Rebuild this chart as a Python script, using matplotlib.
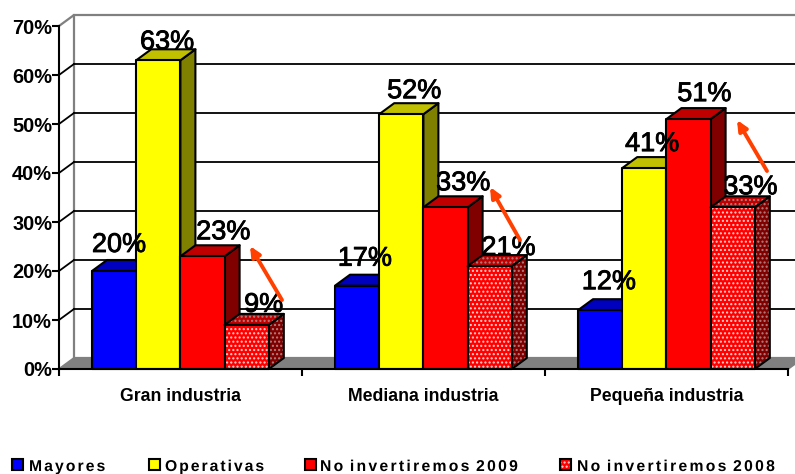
import matplotlib
matplotlib.use("Agg")
import matplotlib.pyplot as plt
import matplotlib.patheffects as pe
import numpy as np
from matplotlib.patches import Rectangle
from matplotlib.path import Path
from matplotlib.transforms import Affine2D

categories = ["Gran industria", "Mediana industria", "Pequeña industria"]
series_names = ["Mayores", "Operativas", "No invertiremos 2009", "No invertiremos 2008"]
mayores = [20, 17, 12]
operativas = [63, 52, 41]
no_inv_2009 = [23, 33, 51]
no_inv_2008 = [9, 21, 33]
y_ticks = [0, 10, 20, 30, 40, 50, 60, 70]

plt.rcParams["font.family"] = ["Liberation Sans", "DejaVu Sans"]
plt.rcParams["hatch.linewidth"] = 1.0

W, H = 795, 474
L, R, B, T = 59, 788, 369, 26
fig = plt.figure(figsize=(W / 100, H / 100), dpi=100, facecolor="white")
ax = fig.add_axes([L / W, (H - B) / H, (R - L) / W, (B - T) / H])
ax.set_xlim(0, 3)
ax.set_ylim(0, 70)
ax.set_facecolor("none")

px_x = 3 / (R - L)
px_y = 70 / (B - T)
DX, DY = 15 * px_x, 11 * px_y
GAP, BW = 33 * px_x, 44.2 * px_x

# walls and floor
ax.fill([0, 3, 3 + DX, DX], [0, 0, DY, DY], color="#808080", lw=0, clip_on=False, zorder=1)
ax.plot([0, DX, DX, 3 + DX], [70, 70 + DY, DY, DY], color="#808080", lw=1.6, clip_on=False, zorder=1)
ax.plot([DX, 3 + DX], [70 + DY, 70 + DY], color="#808080", lw=1.6, clip_on=False, zorder=1)
ax.plot([0, DX], [0, DY], color="#808080", lw=1.4, clip_on=False, zorder=1)
ax.plot([3, 3 + DX], [0, DY], color="#808080", lw=1.4, clip_on=False, zorder=1)
for v in y_ticks[1:-1]:
    ax.plot([DX, 3 + DX], [v + DY, v + DY], color="black", lw=1.3, clip_on=False, zorder=1)
    ax.plot([0, DX], [v, v + DY], color="black", lw=1.3, clip_on=False, zorder=1)

styles = [
    dict(front="#0000FF", top="#0000BF", side="#000080", hatch=None),
    dict(front="#FFFF00", top="#C0C000", side="#808000", hatch=None),
    dict(front="#FF0000", top="#C00000", side="#800000", hatch=None),
    dict(front="#FF0000", top="#C00000", side="#800000", hatch="....",
         fdot="#FFD0D0", sdot="#B08080"),
]
label_dx = [[5, 9, 21, 17], [8, 13, 18, 19], [9, 8, 16, 18]]
label_dy = [[26, 18, 24, 20], [27, 23, 24, 18], [28, 24, 25, 20]]


def face(xs, ys, color, hatch=None, dot=None, z=3):
    if hatch:
        ax.fill(xs, ys, facecolor=color, edgecolor=dot, hatch=hatch, lw=0, clip_on=False, zorder=z)
    else:
        ax.fill(xs, ys, facecolor=color, lw=0, clip_on=False, zorder=z)
    ax.fill(xs, ys, facecolor="none", edgecolor="black", lw=1.5, clip_on=False, zorder=z,
            joinstyle="round")


all_values = [mayores, operativas, no_inv_2009, no_inv_2008]
for i in range(3):
    for j, vals in enumerate(all_values):
        v = vals[i]
        s = styles[j]
        x0 = i + GAP + j * BW
        x1 = x0 + BW
        h = s["hatch"]
        face([x1, x1 + DX, x1 + DX, x1], [0, DY, v + DY, v], s["side"], h, s.get("sdot"))
        face([x0, x1, x1 + DX, x0 + DX], [v, v, v + DY, v + DY], s["top"], h, s.get("sdot"))
        face([x0, x1, x1, x0], [0, 0, v, v], s["front"], h, s.get("fdot"))

thick = [pe.withStroke(linewidth=0.6, foreground="black")]
for i in range(3):
    for j, vals in enumerate(all_values):
        v = vals[i]
        xc = i + GAP + (j + 0.5) * BW
        ax.annotate(f"{v}%", xy=(xc, v), xytext=(label_dx[i][j], label_dy[i][j]),
                    textcoords="offset pixels", ha="center", va="center",
                    fontsize=19.5, color="black", zorder=6, annotation_clip=False,
                    path_effects=thick)

# axes
for sp in ("top", "right"):
    ax.spines[sp].set_visible(False)
for sp in ("left", "bottom"):
    ax.spines[sp].set_linewidth(1.5)
    ax.spines[sp].set_zorder(5)
ax.set_yticks(y_ticks)
ax.set_yticklabels([f"{v}%" for v in y_ticks], fontsize=14.4, fontweight="bold")
ax.tick_params(axis="y", length=5, width=1.5, pad=0)
ax.set_xticks([0, 1, 2, 3])
ax.set_xticklabels([])
ax.tick_params(axis="x", which="major", length=5, width=1.5)
ax.set_xticks([0.5, 1.5, 2.5], minor=True)
ax.set_xticklabels(categories, minor=True, fontsize=12.7, fontweight="bold")
ax.tick_params(axis="x", which="minor", length=0, pad=14)

# arrows
for (x0, y0), (x1, y1) in [((282, 300), (250, 246)), ((520, 240), (490, 187)), ((767, 171), (737, 120))]:
    ax.annotate("", xy=(x1, H - y1), xytext=(x0, H - y0),
                xycoords="figure pixels", textcoords="figure pixels", zorder=7,
                annotation_clip=False,
                arrowprops=dict(arrowstyle="-|>,head_width=0.28,head_length=0.6", color="#FF4000",
                                lw=2.8, shrinkA=0, shrinkB=0))


class Tracking(pe.AbstractPathEffect):
    """Draw a text with wide letter spacing, as in the legend of the reference."""

    def __init__(self, px):
        super().__init__()
        self.px = px

    def draw_path(self, renderer, gc, tpath, affine, rgbFace=None):
        path = tpath.transformed(affine)
        subs = []
        start = 0
        codes, verts = path.codes, path.vertices
        for k in range(1, len(codes) + 1):
            if k == len(codes) or codes[k] == Path.MOVETO:
                subs.append((verts[start:k].copy(), codes[start:k].copy()))
                start = k
        subs.sort(key=lambda s: s[0][:, 0].min())
        n = -1
        right = -1e9
        out_v, out_c = [], []
        for v, c in subs:
            if v[:, 0].min() > right - 0.3:
                n += 1
            right = max(right, v[:, 0].max())
            v[:, 0] += n * self.px
            out_v.append(v)
            out_c.append(c)
        p = Path(np.concatenate(out_v), np.concatenate(out_c))
        renderer.draw_path(gc, p, Affine2D(), rgbFace)


leg_sq_x = [12, 149, 305, 560]
leg_tx_x = [29, 165, 320, 577]
leg_track = [2.1, 2.0, 2.3, 2.3]
for name, st, sx, tx, tr in zip(series_names, styles, leg_sq_x, leg_tx_x, leg_track):
    if st["hatch"]:
        fig.add_artist(Rectangle((sx / W, (H - 470) / H), 11 / W, 11 / H, transform=fig.transFigure,
                                 facecolor=st["front"], edgecolor="#FFD0D0", lw=0, hatch="...."))
        fig.add_artist(Rectangle((sx / W, (H - 470) / H), 11 / W, 11 / H, transform=fig.transFigure,
                                 facecolor="none", edgecolor="black", lw=1.5))
    else:
        fig.add_artist(Rectangle((sx / W, (H - 470) / H), 11 / W, 11 / H, transform=fig.transFigure,
                                 facecolor=st["front"], edgecolor="black", lw=1.5))
    t = fig.text(tx / W, (H - 471) / H, name, fontsize=11.3, fontweight="bold", ha="left", va="baseline")
    t.set_path_effects([Tracking(tr)])

fig.savefig("out.png", dpi=100)
